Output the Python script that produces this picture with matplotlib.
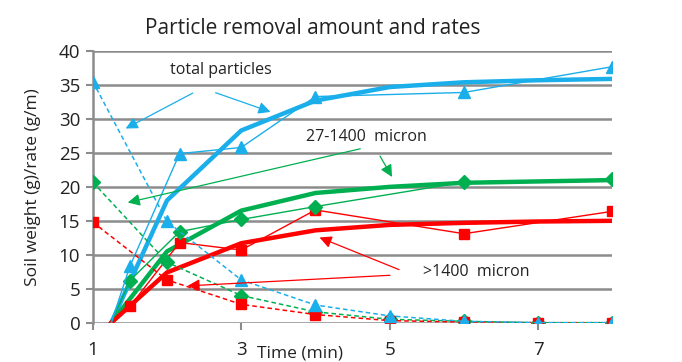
import matplotlib
matplotlib.use("Agg")
import matplotlib.pyplot as plt

plt.rcParams['font.family'] = ['Open Sans', 'DejaVu Sans']

# Rates (dashed) sampled each minute
rate_time = [1, 2, 3, 4, 5, 6, 7, 8]
rate_total = [35.5, 14.9, 6.3, 2.6, 1.0, 0.2, 0.0, 0.0]
rate_mid = [20.7, 8.9, 4.0, 1.6, 0.5, 0.2, 0.0, 0.0]
rate_big = [14.8, 6.3, 2.7, 1.2, 0.3, 0.1, 0.0, 0.0]

# Measured cumulative weights (thin lines with markers)
meas_time = [1.25, 1.5, 2.17, 3, 4, 6, 8]
meas_total = [0, 8.3, 24.9, 25.8, 33.3, 33.9, 37.7]
meas_mid = [0, 6.2, 13.4, 15.2, 17.1, 20.7, 21.1]
meas_big = [0, 2.4, 11.8, 10.7, 16.6, 13.1, 16.4]

# Fitted curves (thick lines)
fit_time = [1.25, 2, 3, 4, 5, 6, 7, 8]
fit_total = [0, 18.0, 28.3, 32.7, 34.7, 35.4, 35.7, 35.9]
fit_mid = [0, 10.5, 16.5, 19.1, 20.0, 20.6, 20.8, 21.0]
fit_big = [0, 7.4, 11.7, 13.6, 14.4, 14.7, 14.9, 15.0]

x_ticks = [1, 3, 5, 7]
y_ticks = [0, 5, 10, 15, 20, 25, 30, 35, 40]

BLUE = '#1AAEEA'
GREEN = '#00B050'
RED = '#FF0000'
GRAY = '#8C8C8C'
TXT = '#222222'

fig = plt.figure(figsize=(6.82, 3.62), dpi=100)
ax = fig.add_axes([0.136, 0.1086, 0.762, 0.7504])

for yv in y_ticks:
    ax.axhline(yv, color=GRAY, lw=1.8, zorder=0)

# fits
ax.plot(fit_time, fit_total, color=BLUE, lw=3.2, zorder=3)
ax.plot(fit_time, fit_mid, color=GREEN, lw=3.2, zorder=3)
ax.plot(fit_time, fit_big, color=RED, lw=3.2, zorder=3)

# measured
ax.plot(meas_time, meas_big, color=RED, lw=1.0, marker='s', ms=7.5, markevery=list(range(1, 7)), zorder=4)
ax.plot(meas_time, meas_mid, color=GREEN, lw=1.0, marker='D', ms=7, markevery=list(range(1, 7)), zorder=4)
ax.plot(meas_time, meas_total, color=BLUE, lw=1.0, marker='^', ms=8, markevery=list(range(1, 7)), zorder=4)

# rates
ax.plot(rate_time, rate_mid, color=GREEN, lw=1.1, ls=(0, (3, 2)), marker='D', ms=7, zorder=5)
ax.plot(rate_time, rate_big, color=RED, lw=1.1, ls=(0, (3, 2)), marker='s', ms=7.5, zorder=5)
ax.plot(rate_time, rate_total, color=BLUE, lw=1.1, ls=(0, (3, 2)), marker='^', ms=8, zorder=6)

ax.set_xlim(1, 8)
ax.set_ylim(0, 40)
ax.set_xticks(x_ticks)
ax.set_yticks(y_ticks)
for s in ['top', 'right', 'bottom']:
    ax.spines[s].set_visible(False)
ax.spines['left'].set_color(GRAY)
ax.spines['left'].set_linewidth(1.8)
ax.tick_params(axis='y', colors=GRAY, length=5, width=1.5, labelsize=13.5, labelcolor=TXT, pad=4)
ax.tick_params(axis='x', colors=GRAY, length=5, width=1.5, labelsize=13.5, labelcolor=TXT, pad=8)

ax.set_title('Particle removal amount and rates', fontsize=15, color=TXT, pad=12, x=0.424)
ax.set_ylabel('Soil weight (g)/rate (g/m)', fontsize=12.5, color=TXT, labelpad=13)
ax.text(3.21, -3.3, 'Time (min)', fontsize=12.5, color=TXT, ha='left', va='top')

arr = dict(arrowstyle='-|>', mutation_scale=18, lw=0.9)
ax.text(2.72, 37.2, 'total particles', fontsize=11.5, color=TXT, ha='center', va='center')
ax.annotate('', xy=(1.41, 28.4), xytext=(2.38, 34.0), arrowprops=dict(color=BLUE, **arr), zorder=7)
ax.annotate('', xy=(3.43, 30.9), xytext=(2.62, 34.0), arrowprops=dict(color=BLUE, **arr), zorder=7)

ax.text(4.69, 27.4, '27-1400  micron', fontsize=11.5, color=TXT, ha='center', va='center')
ax.annotate('', xy=(1.435, 17.6), xytext=(4.64, 25.7), arrowprops=dict(color=GREEN, **arr), zorder=7)
ax.annotate('', xy=(5.05, 21.1), xytext=(4.85, 24.9), arrowprops=dict(color=GREEN, **arr), zorder=7)

ax.text(6.17, 7.4, '>1400  micron', fontsize=11.5, color=TXT, ha='center', va='center')
ax.annotate('', xy=(4.02, 12.7), xytext=(5.16, 7.66), arrowprops=dict(color=RED, **arr), zorder=7)
ax.annotate('', xy=(2.24, 5.4), xytext=(5.04, 7.0), arrowprops=dict(color=RED, **arr), zorder=7)

fig.savefig('out.png', dpi=100)
